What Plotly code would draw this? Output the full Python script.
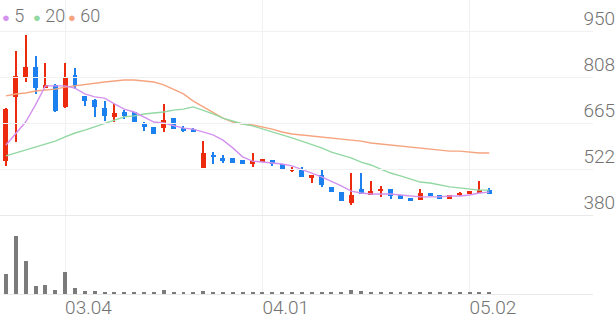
import plotly.graph_objects as go

# ---------------- data ----------------
idx = list(range(50))
open_ = [547, 746, 807, 838, 773, 783, 715, 814, 749, 736, 711, 684, 699, 699, 662, 653, 650, 681, 650, 646,
         526, 563, 557, 557, 550, 538, 544, 550, 538, 519, 519, 495, 504, 467, 451, 417, 461, 442, 457, 461,
         442, 433, 426, 448, 442, 430, 442, 445, 451, 457]
high = [710, 888, 938, 873, 851, 785, 851, 835, 750, 738, 733, 724, 705, 699, 668, 653, 724, 681, 655, 648,
        609, 575, 566, 557, 550, 572, 554, 550, 538, 529, 529, 504, 519, 467, 452, 510, 510, 485, 470, 461,
        442, 433, 461, 448, 442, 442, 451, 454, 485, 464]
low = [532, 606, 792, 755, 773, 700, 712, 770, 718, 684, 671, 668, 677, 668, 640, 630, 637, 645, 636, 638,
       525, 538, 541, 540, 537, 529, 543, 532, 519, 513, 497, 479, 467, 450, 422, 411, 444, 441, 436, 430,
       429, 423, 426, 439, 429, 430, 439, 445, 451, 445]
close = [708, 811, 838, 773, 783, 702, 807, 780, 733, 715, 687, 696, 687, 668, 653, 631, 674, 646, 640, 640,
         572, 560, 547, 541, 538, 547, 553, 538, 519, 523, 498, 504, 473, 451, 423, 442, 445, 454, 460, 439,
         430, 423, 448, 439, 430, 442, 448, 454, 457, 445]
volume = [200, 577, 327, 83, 90, 40, 223, 63, 33, 27, 23, 20, 17, 13, 13, 13, 43, 13, 13, 13,
          30, 13, 12, 12, 12, 12, 12, 12, 12, 12, 12, 12, 12, 12, 12, 40, 27, 12, 12, 12,
          12, 12, 12, 12, 12, 12, 12, 12, 15, 12]
ma5 = [597, 631, 668, 721, 780, 780, 780, 773, 755, 746, 742, 724, 708, 699, 684, 668, 665, 656, 649, 646,
       637, 628, 612, 588, 560, 547, 544, 541, 538, 532, 522, 510, 498, 485, 470, 454, 448, 445, 445, 445,
       442, 439, 436, 436, 436, 439, 439, 442, 448, 451]
ma20 = [563, 572, 581, 591, 600, 609, 622, 634, 643, 653, 665, 674, 684, 687, 693, 696, 699, 705, 708, 715,
        705, 693, 680, 671, 662, 656, 646, 637, 628, 619, 609, 600, 588, 575, 566, 557, 544, 535, 522, 510,
        501, 492, 482, 479, 473, 467, 464, 461, 457, 457]
ma60 = [749, 755, 758, 764, 767, 770, 776, 780, 786, 789, 792, 795, 798, 798, 795, 792, 783, 770, 755, 733,
        715, 696, 680, 668, 662, 659, 653, 646, 637, 631, 628, 625, 622, 619, 615, 612, 609, 603, 600, 597,
        594, 591, 588, 584, 581, 578, 578, 575, 572, 572]
x_tick_pos = [6, 26, 47]
x_tick_text = ["03.04", "04.01", "05.02"]
y_tick_vals = [380, 522.5, 665, 807.5, 950]
y_tick_text = ["380", "522", "665", "808", "950"]
ma_names = ["5", "20", "60"]

# ---------------- style ----------------
RED = "#ec2b0e"
BLUE = "#1c80ef"
MA_COLORS = ["#d392ee", "#92d8a2", "#f6a47f"]
TXT = "#727272"
FONT = "Roboto"
W = 300

fig = go.Figure()

for vals, col, name in zip([ma60, ma20, ma5], MA_COLORS[::-1], ma_names[::-1]):
    fig.add_trace(go.Scatter(x=idx, y=vals, mode="lines", name=name,
                             line=dict(color=col, width=1.4), hoverinfo="skip",
                             showlegend=False, xaxis="x", yaxis="y"))

colors = [RED if c >= o else BLUE for o, c in zip(open_, close)]
fig.add_trace(go.Bar(x=idx, y=[h - l for h, l in zip(high, low)], base=low, width=0.11,
                     marker=dict(color=colors, line=dict(width=0)), showlegend=False,
                     xaxis="x", yaxis="y"))
fig.add_trace(go.Bar(x=idx, y=[abs(c - o) for o, c in zip(open_, close)],
                     base=[min(o, c) for o, c in zip(open_, close)], width=0.5,
                     marker=dict(color=colors, line=dict(width=0)), showlegend=False,
                     xaxis="x", yaxis="y"))
fig.add_trace(go.Bar(x=idx, y=volume, width=0.4,
                     marker=dict(color="#7b7b7b", line=dict(width=0)), showlegend=False,
                     xaxis="x", yaxis="y2"))
# empty traces so that the full-width separator axes get drawn
fig.add_trace(go.Scatter(x=[None], y=[None], xaxis="x3", yaxis="y", showlegend=False, hoverinfo="skip"))
fig.add_trace(go.Scatter(x=[None], y=[None], xaxis="x4", yaxis="y2", showlegend=False, hoverinfo="skip"))

XD = [0.005, 0.83]
XR = [-0.3, 49.3]
PRICE_DOM = [1 - 215 / 321, 1]
VOL_DOM = [1 - 294 / 321, 1 - 215 / 321]

legend_x = [0, 32, 69]
annos = []
for name, col, lx in zip(ma_names, MA_COLORS, legend_x):
    annos.append(dict(xref="paper", yref="paper", x=lx / 616, y=1 - 15.5 / 321,
                      xanchor="left", yanchor="middle", showarrow=False,
                      text=f'<span style="color:{col};font-size:13px">●</span> {name}',
                      font=dict(family=FONT, size=18, color=TXT, weight=W)))

fig.update_layout(
    width=616, height=321, margin=dict(l=0, r=0, t=0, b=0),
    paper_bgcolor="white", plot_bgcolor="rgba(0,0,0,0)",
    barmode="overlay", bargap=0, showlegend=False,
    font=dict(family=FONT, color=TXT, weight=W),
    annotations=annos,
    xaxis=dict(domain=XD, range=XR, anchor="y2", tickvals=x_tick_pos, ticktext=x_tick_text,
               ticks="", showgrid=True, gridcolor="#f1f1f1", gridwidth=1, zeroline=False,
               showline=False, ticklabelposition="outside right",
               tickfont=dict(family=FONT, size=19, color=TXT, weight=W)),
    yaxis=dict(domain=PRICE_DOM, range=[380, 380 + 215 * 570 / 184], anchor="free", position=1,
               side="right", tickvals=y_tick_vals, ticktext=y_tick_text, ticks="",
               ticklabelposition="inside", ticklabelshift=-13, ticklabelstandoff=-25,
               showgrid=True, gridcolor="#f1f1f1", zeroline=False, showline=False,
               tickfont=dict(family=FONT, size=19, color=TXT, weight=W)),
    yaxis2=dict(domain=VOL_DOM, range=[0, 790], anchor="x", showgrid=False, zeroline=False,
                showticklabels=False, ticks=""),
    xaxis3=dict(domain=[0, 1], range=[0, 1], anchor="y", showline=True, linecolor="#e9e9e9",
                linewidth=1, showgrid=False, zeroline=False, showticklabels=False, ticks=""),
    xaxis4=dict(domain=[0.005, 1], range=[0, 1], anchor="y2", showline=True, linecolor="#e9e9e9",
                linewidth=1, showgrid=False, zeroline=False, showticklabels=False, ticks=""),
)

fig.write_html("out.html")
